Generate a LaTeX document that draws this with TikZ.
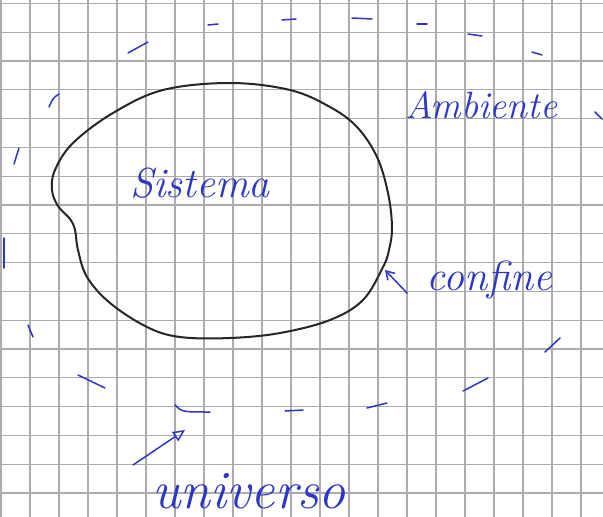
\documentclass[tikz,border=0pt]{standalone}
\usetikzlibrary{arrows.meta}
\definecolor{pen}{RGB}{45,55,195}
\definecolor{gridc}{RGB}{172,172,172}
\tikzset{
  gridline/.style={draw=gridc, line width=1.2pt},
  blob/.style={draw=black!85, line width=2pt},
  tick/.style={draw=pen, line width=1.5pt, line cap=round},
  lbl/.style={text=pen, inner sep=0pt, anchor=base west, font=\itshape},
  pointer/.style={draw=pen, line width=1.5pt, line cap=round}
}
\begin{document}
\begin{tikzpicture}[x=1pt,y=-1pt]
\useasboundingbox (0,0) rectangle (603,517);
\fill[white] (0,0) rectangle (603,517);
% grid paper
\foreach \i in {0,...,20} { \draw[gridline] ({1+29*\i},0) -- ({1+29*\i},517); }
\foreach \j in {0,...,17} { \draw[gridline] (0,{3.3+28.8*\j}) -- (603,{3.3+28.8*\j}); }
% system boundary
\draw[blob] plot[smooth cycle, tension=0.6] coordinates {
 (230,83) (290,90) (330,107) (357,127) (377,157) (388,193) (392,227) (389,250)
 (383,267) (363,300) (330,320) (280,333) (230,338) (180,337) (147,327)
 (110,303) (87,277) (78,250) (75,230) (70,219) (58,206) (52,190) (55,170)
 (73,143) (113,113) (163,90)};
% dashed universe boundary (hand ticks)
\draw[tick] (128,53) -- (148,42);
\draw[tick] (208,25) -- (218,24);
\draw[tick] (282,20) -- (296,19);
\draw[tick] (352,18) -- (372,19);
\draw[tick] (417,24) -- (427,24);
\draw[tick] (468,34) -- (482,36);
\draw[tick] (532,52) -- (542,55);
\draw[tick] (595,112) -- (602,119);
\draw[tick] (49,107) .. controls (53,98) .. (59,94);
\draw[tick] (14,164) -- (19,148);
\draw[tick] (4,238) -- (4,268);
\draw[tick] (28,325) -- (33,337);
\draw[tick] (78,375) -- (105,388);
\draw[tick] (175,405) .. controls (182,412) .. (210,412);
\draw[tick] (285,411) -- (303,410);
\draw[tick] (367,408) -- (387,403);
\draw[tick] (463,391) -- (488,378);
\draw[tick] (545,352) -- (560,338);
% labels
\node[lbl, font=\itshape\fontsize{42}{42}\selectfont] (sis) at (130,197) {Sistema};
\node[lbl, font=\itshape\fontsize{38}{38}\selectfont] (amb) at (405,118) {Ambiente};
\node[lbl, font=\itshape\fontsize{42}{42}\selectfont] (con) at (426,290) {confine};
\node[lbl, font=\itshape\fontsize{54}{54}\selectfont] (uni) at (152,508) {universo};
% pointers
\coordinate (cfTail) at (407,293);
\coordinate (cfHead) at (385,270);
\draw[pointer, -{Straight Barb[length=8pt,width=10pt]}] (cfTail) -- (cfHead);
\coordinate (unTail) at (133,465);
\coordinate (unHead) at (185,430);
\draw[pointer, -{Triangle[open,length=12pt,width=11pt]}] (unTail) -- (unHead);
\end{tikzpicture}
\end{document}
